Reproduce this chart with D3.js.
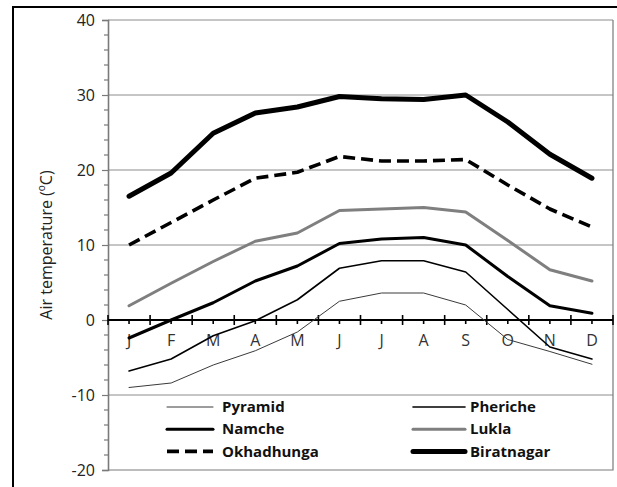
<!DOCTYPE html>
<html>
<head>
<meta charset="utf-8">
<script src="https://cdn.jsdelivr.net/npm/d3@7"></script>
<style>
  body { margin: 0; background: #fff; }
  svg { display: block; font-family: "Open Sans", Lato, sans-serif; }
</style>
</head>
<body>
<div id="chart"></div>
<script>
// data
const months = ["J", "F", "M", "A", "M", "J", "J", "A", "S", "O", "N", "D"];
const pyramid = [-9.0, -8.4, -6.0, -4.1, -1.6, 2.5, 3.6, 3.6, 2.0, -2.6, -4.2, -5.9];
const pheriche = [-6.8, -5.2, -2.1, -0.1, 2.7, 6.9, 7.9, 7.9, 6.4, 1.4, -3.6, -5.2];
const namche = [-2.4, 0.0, 2.3, 5.2, 7.2, 10.2, 10.8, 11.0, 10.0, 5.8, 1.9, 0.9];
const lukla = [1.9, 4.9, 7.8, 10.5, 11.6, 14.6, 14.8, 15.0, 14.4, 10.6, 6.7, 5.2];
const okhadhunga = [10.0, 13.0, 16.0, 18.9, 19.7, 21.8, 21.2, 21.2, 21.4, 18.0, 14.8, 12.4];
const biratnagar = [16.5, 19.6, 24.9, 27.6, 28.4, 29.8, 29.5, 29.4, 30.0, 26.4, 22.1, 18.9];
const yTicks = [-20, -10, 0, 10, 20, 30, 40];

const series = [
  {name: "Pyramid", values: pyramid, color: "#3a3a3a", width: 1, dash: null},
  {name: "Pheriche", values: pheriche, color: "#000", width: 1.6, dash: null},
  {name: "Namche", values: namche, color: "#000", width: 3, dash: null},
  {name: "Lukla", values: lukla, color: "#7f7f7f", width: 3, dash: null},
  {name: "Okhadhunga", values: okhadhunga, color: "#000", width: 3.6, dash: "12,6"},
  {name: "Biratnagar", values: biratnagar, color: "#000", width: 5, dash: null}
];

const W = 617, H = 487;
const margin = {top: 20, left: 108, bottom: 17, right: 4};
const width = W - margin.left - margin.right;
const height = H - margin.top - margin.bottom;

const root = d3.select("#chart").append("svg")
  .attr("width", W)
  .attr("height", H);

// outer frame (cropped)
root.append("path")
  .attr("d", `M13,${H} L13,7 L${W},7`)
  .attr("fill", "none")
  .attr("stroke", "#000")
  .attr("stroke-width", 2);

const svg = root.append("g")
  .attr("transform", `translate(${margin.left}, ${margin.top})`);

const xScale = d3.scaleBand()
  .domain(d3.range(months.length))
  .range([0, width]);

const yScale = d3.scaleLinear()
  .domain([-20, 40])
  .range([height, 0]);

// gridlines
svg.selectAll(".grid")
  .data(yTicks.filter(d => d !== 0 && d !== -20))
  .enter()
  .append("line")
  .attr("x1", 0)
  .attr("x2", width)
  .attr("y1", d => yScale(d))
  .attr("y2", d => yScale(d))
  .attr("stroke", "#8c8c8c")
  .attr("stroke-width", 1);

// plot area border (right + bottom)
svg.append("path")
  .attr("d", `M${width},0 L${width},${height} L0,${height}`)
  .attr("fill", "none")
  .attr("stroke", "#7a7a7a")
  .attr("stroke-width", 1.2);

// y axis
const yAxis = d3.axisLeft(yScale)
  .tickValues(yTicks)
  .tickSize(6)
  .tickPadding(7)
  .tickFormat(d => String(d));

const yg = svg.append("g")
  .attr("class", "y-axis")
  .call(yAxis);
yg.select(".domain").attr("stroke", "#7a7a7a").attr("stroke-width", 1.6);
yg.selectAll(".tick line").attr("stroke", "#7a7a7a").attr("stroke-width", 1.2);
yg.selectAll(".tick text")
  .attr("fill", "#222")
  .style("font-family", "'Open Sans', sans-serif")
  .style("font-size", "16px");

// y minor ticks every 2
svg.selectAll(".yminor")
  .data(d3.range(-20, 41, 2).filter(d => d % 10 !== 0))
  .enter()
  .append("line")
  .attr("x1", -4)
  .attr("x2", 0)
  .attr("y1", d => yScale(d))
  .attr("y2", d => yScale(d))
  .attr("stroke", "#7a7a7a")
  .attr("stroke-width", 1.2);

// x axis at zero
const xg = svg.append("g")
  .attr("class", "x-axis")
  .attr("transform", `translate(0, ${yScale(0)})`);

xg.append("line")
  .attr("x1", 0)
  .attr("x2", width)
  .attr("stroke", "#000")
  .attr("stroke-width", 2);

// major ticks at category boundaries
xg.selectAll(".xmajor")
  .data(d3.range(months.length + 1))
  .enter()
  .append("line")
  .attr("x1", d => d * xScale.step())
  .attr("x2", d => d * xScale.step())
  .attr("y1", -5)
  .attr("y2", 5)
  .attr("stroke", "#000")
  .attr("stroke-width", 1.6);

// minor ticks at category centres
xg.selectAll(".xminor")
  .data(d3.range(months.length))
  .enter()
  .append("line")
  .attr("x1", d => xScale(d) + xScale.bandwidth() / 2)
  .attr("x2", d => xScale(d) + xScale.bandwidth() / 2)
  .attr("y1", 0)
  .attr("y2", 4)
  .attr("stroke", "#000")
  .attr("stroke-width", 1.6);

xg.selectAll(".xlabel")
  .data(months)
  .enter()
  .append("text")
  .attr("x", (d, i) => xScale(i) + xScale.bandwidth() / 2)
  .attr("y", 26)
  .attr("text-anchor", "middle")
  .attr("fill", "#333")
  .style("font-size", "16px")
  .text(d => d);

// lines
const line = d3.line()
  .x((d, i) => xScale(i) + xScale.bandwidth() / 2)
  .y(d => yScale(d));

svg.selectAll(".series")
  .data(series)
  .enter()
  .append("path")
  .attr("class", "series")
  .attr("d", d => line(d.values))
  .attr("fill", "none")
  .attr("stroke", d => d.color)
  .attr("stroke-width", d => d.width)
  .attr("stroke-dasharray", d => d.dash)
  .attr("stroke-linejoin", "round")
  .attr("stroke-linecap", d => d.dash ? "butt" : "round");

// y label
root.append("text")
  .attr("transform", "translate(52, 245) rotate(-90)")
  .attr("text-anchor", "middle")
  .attr("fill", "#222")
  .style("font-size", "16px")
  .html('Air temperature (<tspan baseline-shift="super" font-size="10px">o</tspan>C)');

// legend
const legend = svg.selectAll(".legend")
  .data(series)
  .enter()
  .append("g")
  .attr("class", "legend")
  .attr("transform", (d, i) => `translate(${i % 2 === 0 ? 59 : 305}, ${387 + Math.floor(i / 2) * 22.2})`);

legend.append("line")
  .attr("x1", 0)
  .attr("x2", (d, i) => i % 2 === 0 ? 46 : 52)
  .attr("stroke", d => d.color)
  .attr("stroke-width", d => d.width)
  .attr("stroke-dasharray", d => d.dash)
  .attr("stroke-linecap", d => d.dash ? "butt" : "round");

legend.append("text")
  .attr("x", (d, i) => i % 2 === 0 ? 55 : 57)
  .attr("dy", "0.35em")
  .attr("fill", "#111")
  .style("font-size", "15px")
  .style("font-weight", "bold")
  .text(d => d.name);
</script>
</body>
</html>
